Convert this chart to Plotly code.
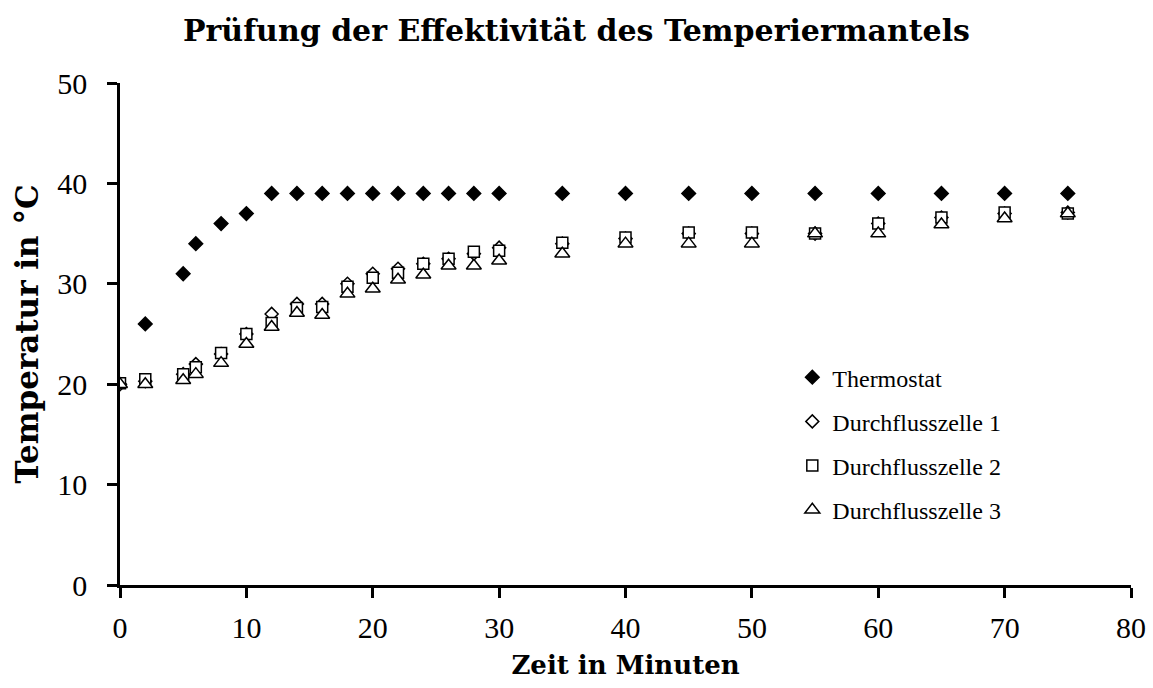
import plotly.graph_objects as go

# Measurement times in minutes
zeit = [0, 2, 5, 6, 8, 10, 12, 14, 16, 18, 20, 22, 24, 26, 28, 30,
        35, 40, 45, 50, 55, 60, 65, 70, 75]
zeit_thermostat = zeit[1:]

# Temperatures in °C
thermostat = [26, 31, 34, 36, 37, 39, 39, 39, 39, 39, 39, 39, 39, 39, 39,
              39, 39, 39, 39, 39, 39, 39, 39, 39]
zelle_1 = [20, 20.3, 21, 22, 23, 25, 27, 28, 28, 30, 31, 31.5, 32, 32.5, 33, 33.6,
           34, 34.5, 35, 35, 35, 36, 36.6, 37, 37.1]
zelle_2 = [20.1, 20.5, 21, 21.7, 23.1, 25, 26.1, 27.6, 27.7, 29.7, 30.6, 31.1, 32, 32.5, 33.2, 33.3,
           34.1, 34.6, 35.1, 35.1, 35, 36, 36.6, 37.1, 37]
zelle_3 = [20, 20, 20.4, 21, 22.1, 24, 25.7, 27.1, 26.9, 29, 29.5, 30.4, 30.9, 31.8, 31.8, 32.3,
           33, 34, 34, 34, 35, 35, 35.9, 36.5, 37]

serif = "Liberation Serif"
heading = "DejaVu Serif"

fig = go.Figure()
series = [
    ("Thermostat", zeit_thermostat, thermostat, "diamond", "black", 10.5),
    ("Durchflusszelle 1", zeit, zelle_1, "diamond", "white", 10),
    ("Durchflusszelle 2", zeit, zelle_2, "square", "white", 11),
    ("Durchflusszelle 3", zeit, zelle_3, "triangle-up", "white", 13),
]
for i, (name, xs, ys, sym, fill, size) in enumerate(series):
    fig.add_trace(go.Scatter(
        x=xs, y=ys, name=name, mode="markers", legendgroup=f"g{i}",
        marker=dict(symbol=sym, color=fill, size=size,
                    line=dict(color="black", width=1.5)),
    ))

axis_common = dict(
    showgrid=False, zeroline=False, showline=True, linecolor="black",
    linewidth=2.5, ticks="outside", tickcolor="black", tickwidth=2.5, ticklen=10,
    automargin=False,
    tickfont=dict(family=serif, size=30, color="black"),
)

fig.update_layout(
    width=1153, height=688,
    paper_bgcolor="white", plot_bgcolor="white",
    margin=dict(l=120, r=22, t=83, b=103),
    title=dict(text="<b>Prüfung der Effektivität des Temperiermantels</b>",
               x=0.5, xanchor="center", y=0.955, yanchor="middle",
               font=dict(family=heading, size=30, color="black")),
    xaxis=dict(range=[0, 80], dtick=10, tick0=0, ticklabelstandoff=4,
               title=dict(text="<b>Zeit in Minuten</b>", standoff=14,
                          font=dict(family=heading, size=26, color="black")),
               **axis_common),
    yaxis=dict(range=[0, 50], dtick=10, tick0=0, ticklabelstandoff=14,
               title=dict(text="<b>Temperatur in °C</b>", standoff=10,
                          font=dict(family=heading, size=31, color="black")),
               **axis_common),
    legend=dict(x=0.665, y=0.458, xanchor="left", yanchor="top",
                font=dict(family=serif, size=24, color="black"),
                tracegroupgap=10, itemwidth=30,
                bgcolor="rgba(0,0,0,0)"),
)

fig.write_html("out.html")
